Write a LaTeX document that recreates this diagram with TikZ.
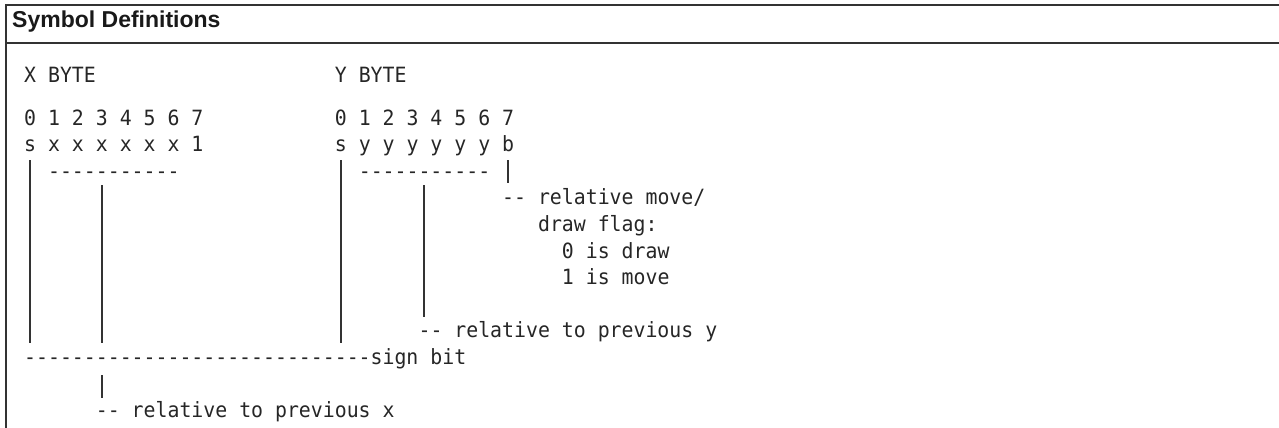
\documentclass[tikz,border=0pt]{standalone}
\usepackage{fontspec}
\setmainfont{Liberation Sans}
\newfontfamily\monof[FakeStretch=0.945,Ligatures=TeXOff]{DejaVu Sans Mono}
\begin{document}
\begin{tikzpicture}[x=1pt,y=-1pt,
  mono/.style={font=\monof\fontsize{21}{21}\selectfont, inner sep=0pt, anchor=base west, text=black!85},
  hdr/.style={font=\bfseries\fontsize{23}{23}\selectfont, inner sep=0pt, anchor=base west, text=black!90},
  frameline/.style={line width=1.6pt, draw=black!80},
  bar/.style={line width=1.7pt, draw=black!80}]
\useasboundingbox (0,0) rectangle (1279,428);
\fill[white] (0,0) rectangle (1279,428);
% frame
\draw[frameline] (1279,5) -- (6,5) -- (6,428);
\draw[frameline] (6,43) -- (1279,43);
\node[hdr] (title) at (12,28) {Symbol Definitions};
% text lines
\node[mono] (xb) at (24,82) {X BYTE};
\node[mono] (yb) at (334.7,82) {Y BYTE};
\node[mono] (xbits) at (24,125) {0 1 2 3 4 5 6 7};
\node[mono] (ybits) at (334.7,125) {0 1 2 3 4 5 6 7};
\node[mono] (xfld) at (24,151.6) {s x x x x x x 1};
\node[mono] (yfld) at (334.7,151.6) {s y y y y y y b};
\node[mono] (xdash) at (47.9,178.2) {-----------};
\node[mono] (ydash) at (358.6,178.2) {-----------};
\node[mono] (flag) at (502,204.8) {-- relative move/};
\node[mono] (flag2) at (537.85,231.4) {draw flag:};
\node[mono] (zero) at (561.75,258) {0 is draw};
\node[mono] (one) at (561.75,284.6) {1 is move};
\node[mono] (rely) at (418.35,337.8) {-- relative to previous y};
\node[mono] (sign) at (24,364.4) {-----------------------------sign bit};
\node[mono] (relx) at (95.7,417.6) {-- relative to previous x};
% vertical bars
\coordinate (s0t) at (30,160);   \coordinate (s0b) at (30,343);
\coordinate (x6t) at (101.7,185); \coordinate (x6b) at (101.7,343);
\coordinate (s26t) at (340.7,160); \coordinate (s26b) at (340.7,343);
\coordinate (y33t) at (424.3,185); \coordinate (y33b) at (424.3,317);
\coordinate (b40t) at (508,160);  \coordinate (b40b) at (508,183);
\coordinate (x6lt) at (101.7,375); \coordinate (x6lb) at (101.7,398);
\draw[bar] (s0t) -- (s0b);
\draw[bar] (x6t) -- (x6b);
\draw[bar] (s26t) -- (s26b);
\draw[bar] (y33t) -- (y33b);
\draw[bar] (b40t) -- (b40b);
\draw[bar] (x6lt) -- (x6lb);
\end{tikzpicture}
\end{document}
